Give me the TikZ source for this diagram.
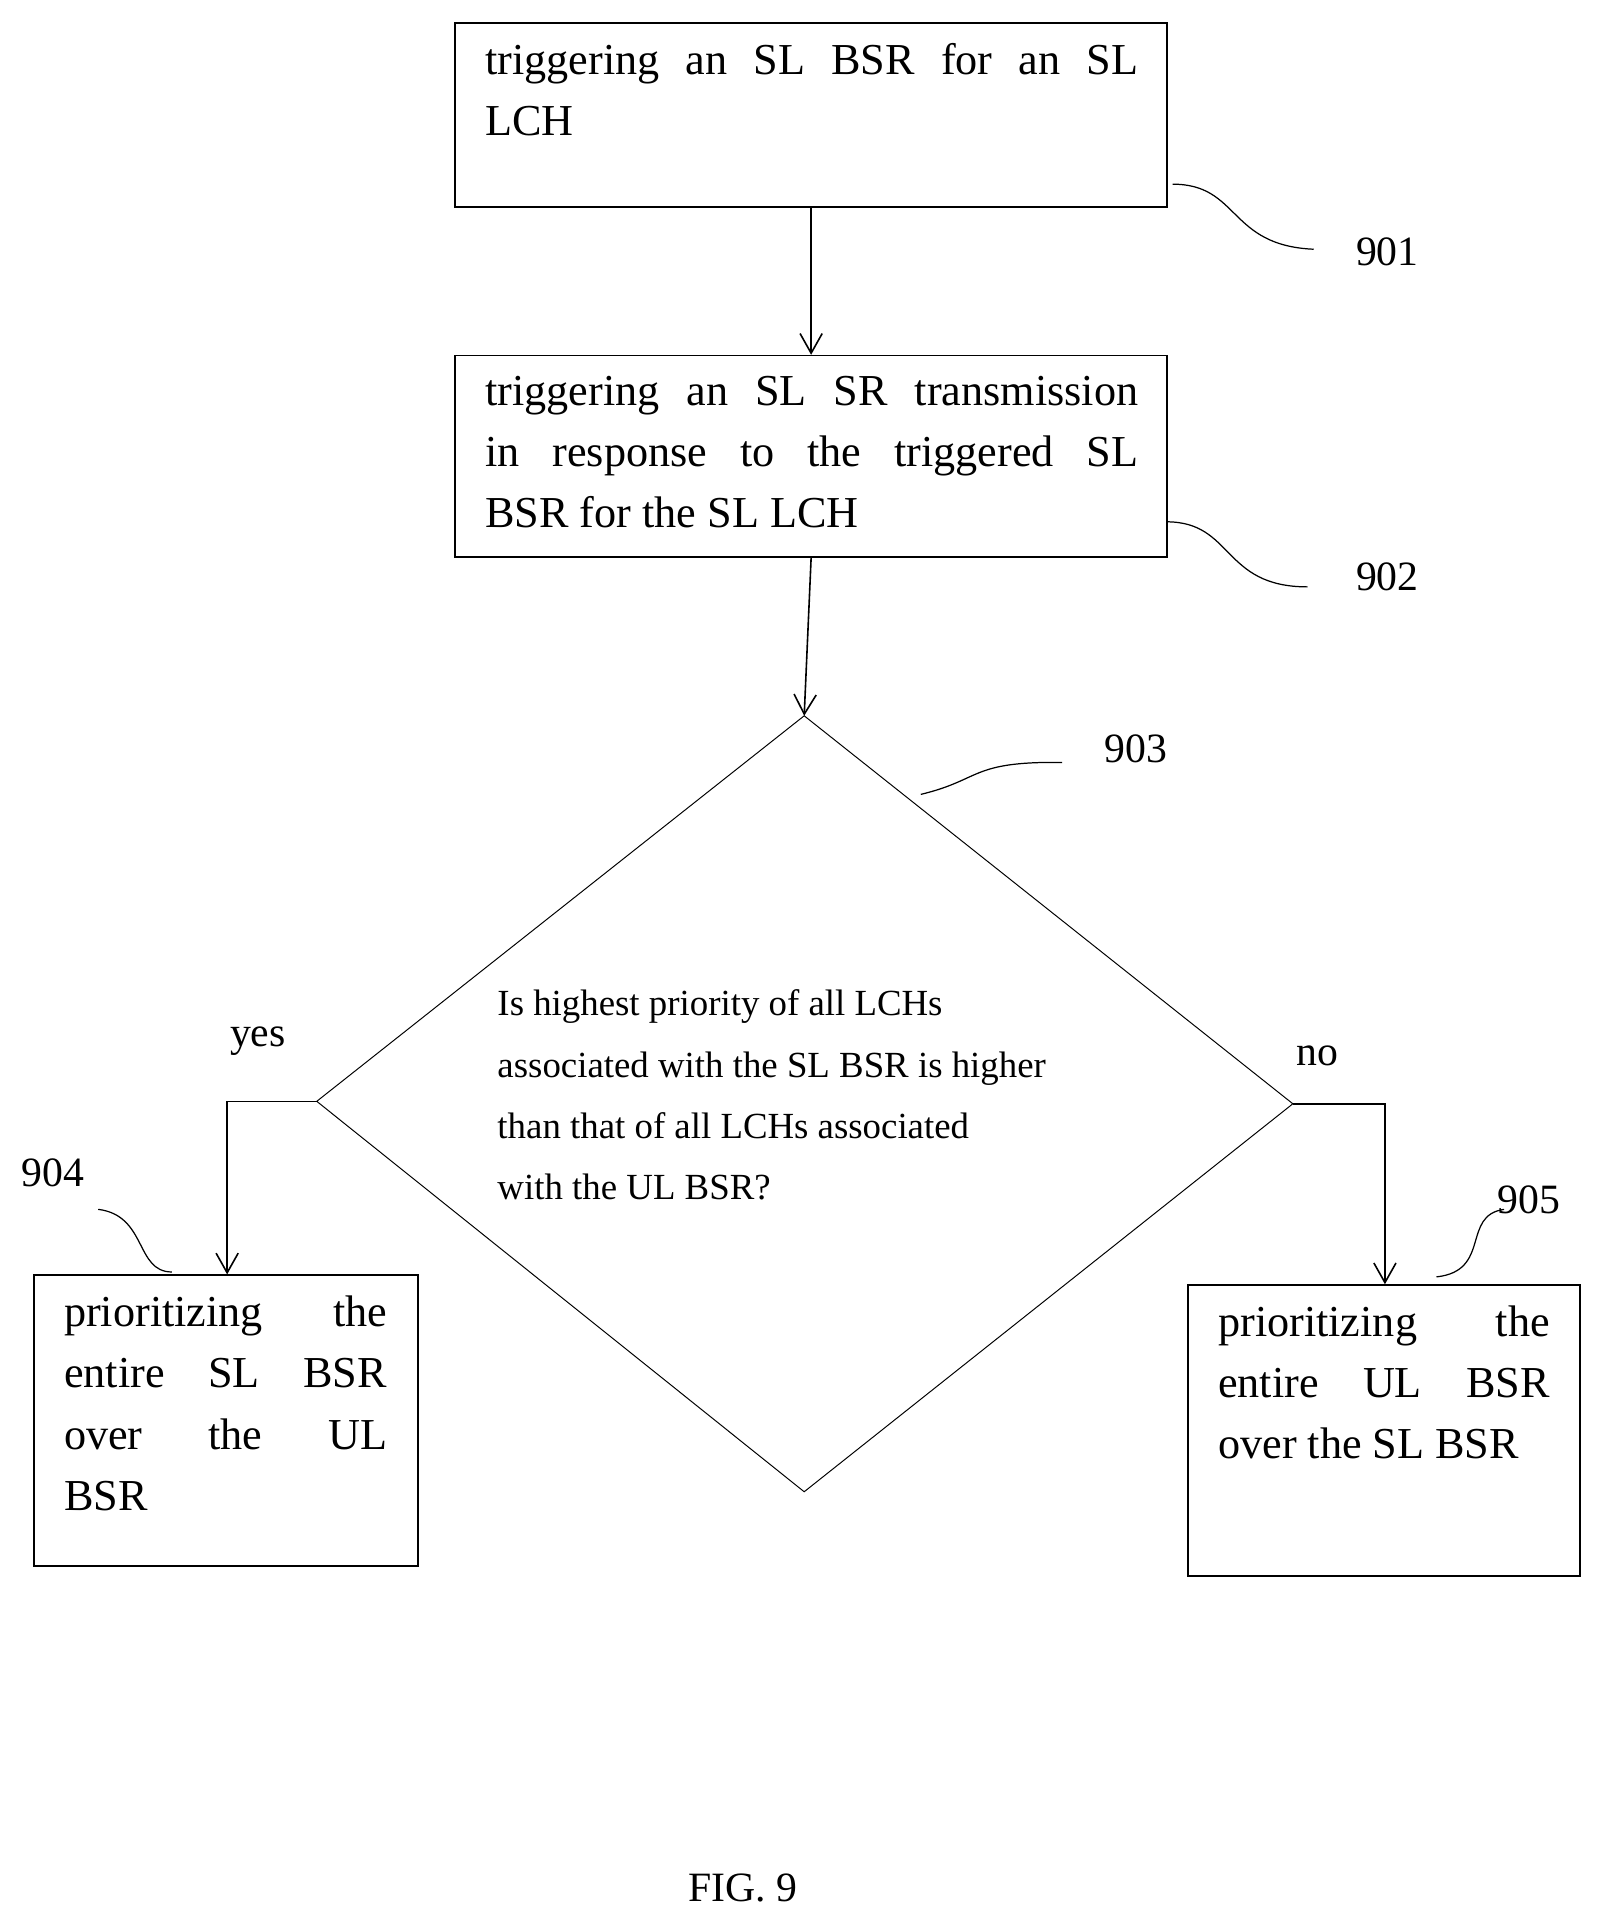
\documentclass[tikz,border=0pt]{standalone}
\usetikzlibrary{arrows.meta}
\usepackage{fontspec}
\setmainfont{Liberation Serif}
\begin{document}
\begin{tikzpicture}[x=1pt,y=-1pt,
 box/.style={draw,line width=1.3pt,anchor=north west,inner sep=0pt},
 txt/.style={anchor=north west,align=left,inner sep=0pt,font=\fontsize{36}{50}\selectfont},
 lbl/.style={font=\fontsize{34}{40}\selectfont,inner sep=0pt},
 arr/.style={-{Straight Barb[length=16pt,width=18pt]},line width=1.3pt},
 lead/.style={line width=1pt}]
\useasboundingbox (0,0) rectangle (1300,1563);
\node[box,minimum width=580pt,minimum height=150pt] (b1) at (370,18) {};
\node[txt] (t1) at (395,35) {\makebox[532pt][s]{triggering an SL BSR for an SL}\\LCH};
\node[box,minimum width=580pt,minimum height=164pt] (b2) at (370,289) {};
\node[txt] (t2) at (395,306) {\makebox[532pt][s]{triggering an SL SR transmission}\\\makebox[532pt][s]{in response to the triggered SL}\\BSR for the SL LCH};
\coordinate (dt) at (655,583); \coordinate (dl) at (258,897);
\coordinate (dr) at (1053,899); \coordinate (db) at (655,1215);
\draw[line width=0.8pt] (dt)--(dr)--(db)--(dl)--cycle;
\node[anchor=north west,align=left,inner sep=0pt,font=\fontsize{30}{50}\selectfont] (t3) at (405,806) {Is highest priority of all LCHs\\associated with the SL BSR is higher\\than that of all LCHs associated\\with the UL BSR?};
\node[box,minimum width=313pt,minimum height=237pt] (b4) at (27,1038) {};
\node[txt] (t4) at (52,1055) {\makebox[263pt][s]{prioritizing the}\\\makebox[263pt][s]{entire SL BSR}\\\makebox[263pt][s]{over the UL}\\BSR};
\node[box,minimum width=319pt,minimum height=237pt] (b5) at (967,1046) {};
\node[txt] (t5) at (992,1063) {\makebox[270pt][s]{prioritizing the}\\\makebox[270pt][s]{entire UL BSR}\\over the SL BSR};
\draw[arr] (b1.south) -- (b2.north);
\draw[arr] (b2.south) -- (dt);
\draw[arr] (dl) -- (185,897) -- (185,1038);
\draw[arr] (dr) -- (1128,899) -- (1128,1046);
\node[lbl] (yes) at (210,848) {yes};
\node[lbl] (no) at (1073,860) {no};
\node[lbl] (n901) at (1130,205) {901};
\node[lbl] (n902) at (1130,470) {902};
\node[lbl] (n903) at (925,610) {903};
\node[lbl] (n904) at (43,955) {904};
\node[lbl] (n905) at (1245,977) {905};
\node[lbl] (fig) at (605,1538) {FIG. 9};
\draw[lead] (955,150) .. controls (1010,150) and (1000,200) .. (1070,203);
\draw[lead] (950,425) .. controls (1005,425) and (995,478) .. (1065,478);
\draw[lead] (750,647) .. controls (800,635) and (790,620) .. (865,621);
\draw[lead] (80,985) .. controls (120,990) and (110,1036) .. (140,1036);
\draw[lead] (1170,1040) .. controls (1215,1035) and (1190,990) .. (1225,985);
\end{tikzpicture}
\end{document}
